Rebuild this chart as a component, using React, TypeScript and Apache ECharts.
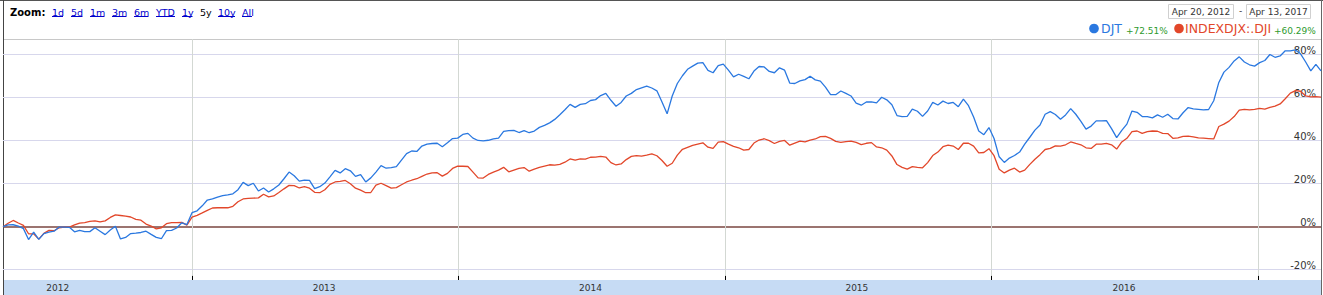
import React, { useEffect, useRef } from 'react';
import * as echarts from 'echarts';

// ---- data (weekly closes, % change since start) ----
const FIRST_WEEK = Date.UTC(2012, 3, 17);
const WEEK_MS = 7 * 86400000;
const AXIS_MIN = Date.UTC(2012, 3, 17);
const AXIS_MAX = Date.UTC(2017, 2, 28);
const Y_MIN = -24.8;
const Y_MAX = 87.3;

const djt = [
  0, 0.8, 0.9, 0.3, -0.9, -6, -2.5, -5.9, -3.2, -2.5,
  -2.1, -0.2, -0.2, -0.3, -2.4, -1.7, -2.3, -2.3, -0.5, -2.1,
  -3.7, -1.5, 0.2, -5.7, -5, -3.2, -3, -2.7, -2.1, -3.6,
  -5, -5.6, -1.8, -1.7, -0.6, 1.8, 1, 6.5, 7.4, 9.7,
  12.4, 12.9, 13.7, 14.4, 14.8, 15.3, 17.2, 20.6, 19.1, 20.2,
  16.6, 18, 16.1, 17.6, 19.4, 22.3, 25.4, 23.7, 21.2, 21.7,
  21.5, 17.7, 18.6, 20.3, 23.2, 26.2, 25, 27, 26, 23.4,
  24.2, 20.8, 22.7, 25.4, 28.4, 27.2, 27.5, 27.9, 31, 34,
  35.2, 35, 37.5, 38.4, 38.7, 38.8, 37.2, 39, 41, 41.2,
  42.9, 43.4, 41.2, 40.1, 39.9, 40.2, 40.8, 41.2, 44.3, 44.7,
  44.8, 43.8, 44.7, 43.7, 44.5, 46.2, 47.1, 48.3, 49.9, 52.1,
  54.4, 56.9, 55.5, 56.9, 57.2, 58.7, 59.1, 61, 62, 58.8,
  56, 57.8, 60.8, 62, 63.8, 64.6, 65.4, 64.5, 63.2, 58,
  52.5, 60.8, 66.6, 70.2, 73.2, 74.7, 76.1, 76.3, 72.7, 71.6,
  74.9, 75.6, 72.8, 69.7, 70.9, 69.9, 68.8, 72.4, 74.5, 74.3,
  72.2, 71.6, 73.9, 72.8, 66.8, 66.6, 67.8, 68.4, 70, 68.3,
  67.7, 64.9, 61.4, 61.4, 63.1, 62, 60.8, 57.5, 56.5, 58,
  58.1, 57.6, 60.2, 59, 56.7, 51.7, 51.2, 51.3, 54.7, 53.7,
  51.3, 53.8, 57.8, 56.6, 58.4, 57.3, 57.8, 55.8, 59.3, 56.3,
  51, 44.5, 42.8, 46.1, 41, 32.5, 29.9, 31.9, 33.1, 34.7,
  38.4, 41.6, 44.9, 47.3, 52.3, 53.5, 52.2, 50, 52, 54.9,
  52.3, 49, 45.4, 46.8, 49.2, 49.2, 49.3, 45.6, 41.4, 44.8,
  47.7, 53.8, 53.2, 51.2, 51.2, 50.6, 52, 50.9, 52.3, 50.3,
  50.1, 53, 55.4, 54.8, 54.6, 54.3, 54.5, 58.6, 67.1, 71.9,
  74.1, 77.1, 79, 76.6, 75.3, 74.7, 76.3, 77.3, 80.1, 78.8,
  79.4, 81.8, 81.8, 82.2, 80.4, 76.6, 72.5, 75.5, 72.5,
];

const dji = [
  0, 1.6, 2.9, 1.7, 0.6, -3.3, -3.3, -5.8, -3.1, -1.7,
  -1.9, -0.5, -0.2, -0.2, 0.8, 1.7, 1.9, 2.5, 2.7, 2.2,
  2.7, 4.3, 5.5, 5.2, 4.9, 4.5, 3.4, 3, 1.2, 0.3,
  -1, -0.5, 1.4, 1.9, 1.9, 2, 0.7, 4.4, 5.3, 6.4,
  7.6, 8.7, 8.8, 8.8, 8.8, 9.5, 11.6, 12.9, 13.2, 13.3,
  13.4, 15.1, 13.9, 14.3, 15.9, 17.6, 19.2, 19.1, 18, 18.6,
  17.9, 16, 15.8, 17.2, 19.7, 20.8, 21.1, 21.5, 20, 17.9,
  17, 15.8, 15.9, 19.3, 20.2, 19.1, 17.9, 18.2, 19.5, 20.8,
  21.6, 22.3, 23.4, 24.5, 25, 25.1, 23.5, 24.8, 27.1, 28.2,
  28.1, 28, 25.4, 22.7, 22.6, 24.3, 25.4, 26.3, 27.6, 25.5,
  26.3, 27.1, 27.5, 25.8, 26.8, 27.6, 28.2, 28.8, 28.6, 29,
  30, 31.5, 31, 31.5, 31.4, 32.3, 32.4, 32.7, 32.4, 29.8,
  28.7, 29.2, 31.2, 32.7, 33.1, 32.8, 33.3, 33.9, 33, 30.8,
  28.1, 29.5, 33.3, 36, 36.9, 37.8, 38.4, 39, 37, 36.4,
  39.3, 39.6, 38.4, 37.4, 36.7, 35.6, 35.9, 38.9, 40.3, 40.9,
  40, 38.7, 39.7, 40.1, 37.9, 38.9, 39.8, 39.4, 40.3, 40.8,
  41.9, 42, 41.1, 39.7, 39.2, 39.6, 39.8, 39.2, 38.2, 38.8,
  39.1, 37.1, 36.7, 35.6, 32.9, 28.9, 27.6, 26.8, 27.9, 27.6,
  27.4, 29.8, 33.1, 34.7, 37.2, 37.9, 37.5, 35.9, 38.8, 38.8,
  37.5, 34.3, 34.5, 36.3, 33, 26.7, 25, 26.3, 27.2, 25.4,
  26.3, 29, 31.4, 33.5, 35.9, 36.4, 37.6, 37.5, 38.1, 39.4,
  38.7, 38.1, 36.7, 36.4, 38.4, 38.4, 38.8, 38.1, 36.1, 39.4,
  41.1, 44.2, 44.5, 43.4, 44.2, 44.5, 44.4, 43.4, 43.3, 41.1,
  41.3, 42, 42.1, 41.8, 41.3, 41.2, 41, 40.8, 46.6, 47.7,
  49.1, 51.2, 54.2, 54.6, 54.3, 54.6, 55, 54.7, 55.5, 56.1,
  57.1, 59.5, 62.1, 63.3, 63, 60.8, 60.4, 60.5, 60.3,
];

const yTicks = [-20, 0, 20, 40, 60, 80];
const yearStarts = [2013, 2014, 2015, 2016, 2017];
const yearLabels = [2012, 2013, 2014, 2015, 2016];
const zoomLinks = ['1d', '5d', '1m', '3m', '6m', 'YTD', '1y', '5y', '10y', 'All'];
const activeLink = '5y';
const seriesNames = ['DJT', 'INDEXDJX:.DJI'];
const seriesChange = ['+72.51%', '+60.29%'];
const dateRange = ['Apr 20, 2012', 'Apr 13, 2017'];

const BLUE = '#2a78e0';
const RED = '#e2472a';
const GREEN = '#2e9a2e';
const FONT = '"DejaVu Sans", Verdana, sans-serif';

export default function App() {
  const ref = useRef<HTMLDivElement>(null);

  useEffect(() => {
    if (!ref.current) return;
    const chart = echarts.init(ref.current, undefined, { renderer: 'svg' });

    const weeks = djt.map((_, i) => FIRST_WEEK + i * WEEK_MS);

    const linkX = [52, 71, 90, 112, 134, 156, 182, 200, 218, 242];
    const linkW = [11, 11.5, 14.5, 14.5, 14.5, 19, 10.5, 11, 17, 10];

    const graphics: any[] = [
      { type: 'rect', shape: { x: 0, y: 0, width: 1323, height: 1 }, style: { fill: '#555' }, silent: true },
      { type: 'line', shape: { x1: 3.5, y1: 0, x2: 3.5, y2: 295 }, style: { stroke: '#444', lineWidth: 1 }, silent: true },
      { type: 'line', shape: { x1: 1321.5, y1: 0, x2: 1321.5, y2: 295 }, style: { stroke: '#666', lineWidth: 1 }, silent: true },
      { type: 'line', shape: { x1: 4, y1: 39.5, x2: 1321, y2: 39.5 }, style: { stroke: '#c8c8c8', lineWidth: 1 }, silent: true },
      { type: 'rect', shape: { x: 4, y: 280, width: 1317, height: 15 }, style: { fill: '#c6dbf4' }, silent: true },
      {
        type: 'text', x: 10, y: 12.5,
        style: { text: 'Zoom:', fill: '#000', font: `bold 10px ${FONT}`, textAlign: 'left', textVerticalAlign: 'middle' },
      },
    ];

    zoomLinks.forEach((lbl, i) => {
      const active = lbl === activeLink;
      graphics.push({
        type: 'text', x: linkX[i], y: 12.5,
        style: { text: lbl, fill: active ? '#000' : '#0000cc', font: `9.5px ${FONT}`, textAlign: 'left', textVerticalAlign: 'middle' },
      });
      if (!active) {
        graphics.push({
          type: 'line', shape: { x1: linkX[i], y1: 16.5, x2: linkX[i] + linkW[i], y2: 16.5 },
          style: { stroke: '#0000cc', lineWidth: 1 }, silent: true,
        });
      }
    });

    // date range boxes
    const boxX = [1168.5, 1246.5];
    const boxW = [65, 64];
    dateRange.forEach((txt, i) => {
      graphics.push({
        type: 'rect', shape: { x: boxX[i], y: 4.5, width: boxW[i], height: 14 },
        style: { fill: '#fff', stroke: '#d0d0d0', lineWidth: 1 }, silent: true,
      });
      graphics.push({
        type: 'text', x: boxX[i] + boxW[i] / 2, y: 11.5,
        style: { text: txt, fill: '#333', font: `9px ${FONT}`, textAlign: 'center', textVerticalAlign: 'middle' },
      });
    });
    graphics.push({
      type: 'text', x: 1240.5, y: 11,
      style: { text: '-', fill: '#333', font: `9px ${FONT}`, textAlign: 'center', textVerticalAlign: 'middle' },
    });

    // legend
    const dotX = [1094, 1179];
    const nameX = [1101, 1185];
    const chgX = [1126, 1274];
    const colors = [BLUE, RED];
    seriesNames.forEach((nm, i) => {
      graphics.push({ type: 'circle', shape: { cx: dotX[i], cy: 28.5, r: 4.8 }, style: { fill: colors[i] }, silent: true });
      graphics.push({
        type: 'text', x: nameX[i], y: 28.5,
        style: { text: nm, fill: colors[i], font: `12.5px ${FONT}`, textAlign: 'left', textVerticalAlign: 'middle' },
      });
      graphics.push({
        type: 'text', x: chgX[i], y: 31,
        style: { text: seriesChange[i], fill: GREEN, font: `9px ${FONT}`, textAlign: 'left', textVerticalAlign: 'middle' },
      });
    });

    const markData: any[] = [];
    yTicks.forEach((v) => {
      markData.push({
        yAxis: v,
        lineStyle: { color: v === 0 ? '#7a4640' : '#d7d7ec', width: v === 0 ? 1.5 : 1, type: 'solid' },
        label: {
          show: true, position: 'insideEndTop', formatter: `${v}%`, color: '#333',
          fontFamily: FONT, fontSize: 10, distance: [5, -1],
        },
      });
    });
    yearStarts.forEach((y) => {
      markData.push({
        xAxis: Date.UTC(y, 0, 1),
        lineStyle: { color: '#d3d8d3', width: 1, type: 'solid' },
        label: { show: false },
      });
    });
    yearStarts.forEach((y) => {
      const t = Date.UTC(y, 0, 1);
      markData.push([
        { coord: [t, Y_MIN], lineStyle: { color: '#000', width: 1, type: 'solid' }, label: { show: false } },
        { coord: [t, Y_MIN + 1.9], lineStyle: { color: '#000', width: 1, type: 'solid' }, label: { show: false } },
      ]);
    });

    chart.setOption({
      animation: false,
      grid: { left: 3, right: 2, top: 39, bottom: 15, containLabel: false },
      xAxis: { type: 'time', min: AXIS_MIN, max: AXIS_MAX, show: false },
      yAxis: { type: 'value', min: Y_MIN, max: Y_MAX, show: false },
      graphic: { elements: graphics },
      series: [
        {
          type: 'line',
          name: 'grid',
          data: [],
          silent: true,
          z: 1,
          markLine: { silent: true, symbol: ['none', 'none'], z: 1, animation: false, data: markData },
        },
        {
          type: 'line',
          name: seriesNames[1],
          data: weeks.map((t, i) => [t, dji[i]]),
          showSymbol: false,
          symbol: 'none',
          lineStyle: { color: RED, width: 1.3 },
          itemStyle: { color: RED },
          z: 3,
        },
        {
          type: 'line',
          name: seriesNames[0],
          data: weeks.map((t, i) => [t, djt[i]]),
          showSymbol: false,
          symbol: 'none',
          lineStyle: { color: BLUE, width: 1.3 },
          itemStyle: { color: BLUE },
          z: 4,
        },
      ],
    });

    // year labels in the bottom band, placed at mid-year through the time axis
    const yearTexts = yearLabels.map((y) => {
      const px = chart.convertToPixel({ xAxisIndex: 0 }, Date.UTC(y, 6, 1)) as number;
      return {
        type: 'text', x: px, y: 287.5, z: 10,
        style: { text: String(y), fill: '#333', font: `9px ${FONT}`, textAlign: 'center', textVerticalAlign: 'middle' },
      };
    });
    chart.setOption({ graphic: { elements: [...graphics, ...yearTexts] } }, { replaceMerge: ['graphic'] });

    return () => chart.dispose();
  }, []);

  return (
    <div
      ref={ref}
      style={{ position: 'absolute', left: 0, top: 0, width: 1323, height: 295, background: '#fff' }}
    />
  );
}
